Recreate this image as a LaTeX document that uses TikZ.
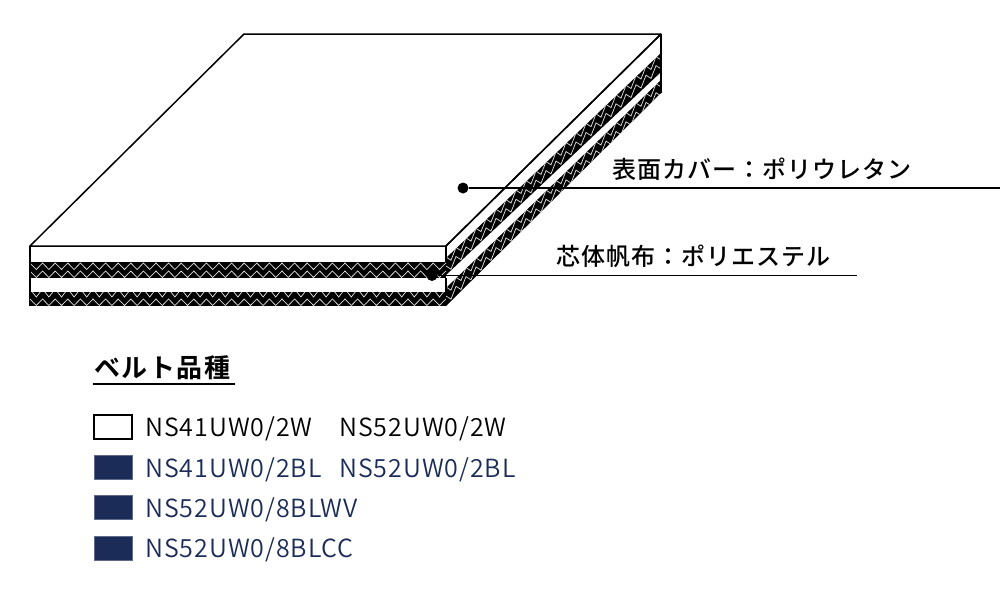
\documentclass[tikz,border=0pt]{standalone}
\usepackage{fontspec}
\newfontfamily\jpfont[LetterSpace=4.2]{Noto Sans CJK JP Medium}
\newfontfamily\jpbold[LetterSpace=6]{Noto Sans CJK JP Bold}
\newfontfamily\codefont[LetterSpace=3.8]{Noto Sans CJK JP DemiLight}
\definecolor{navy}{HTML}{1B2C58}
\tikzstyle{edge}=[black, line width=1.5pt, line join=round]
\tikzstyle{weave}=[gray!30, line width=0.75pt]
\tikzstyle{swatch}=[rectangle, draw=navy!70, fill=navy, minimum width=38pt, minimum height=24pt, inner sep=0pt, line width=0.4pt]
\tikzstyle{plain}=[swatch, draw=black, fill=white, line width=1.5pt]
\tikzstyle{code}=[anchor=base west, inner sep=0pt, font=\codefont\fontsize{25}{25}\selectfont]
\tikzstyle{material}=[inner sep=0pt, anchor=base west, font=\jpfont\fontsize{24}{24}\selectfont]
\tikzstyle{pin}=[circle, fill=black, inner sep=0pt, minimum size=11pt]
\begin{document}
\begin{tikzpicture}[x=1pt,y=-1pt]
  \useasboundingbox (0,0) rectangle (1000,595);
  % top face and white bands
  \draw[edge] (30,246) -- (244,34) -- (661,34) -- (446,246) -- cycle;
  \fill[black] (29,262) rectangle (446,278);
  \fill[black] (29,292) rectangle (446,306);
  \fill[black] (446,258) -- (661,53) -- (661,72) -- (446,275) -- cycle;
  \fill[black] (446,288) -- (661,80) -- (661,93) -- (446,306) -- cycle;
  % weave, front
  \foreach \ya in {263,271,299}{
    \draw[weave] plot[samples at={0,...,66}] ({30+6.3*\x},{\ya+mod(\x,2)*6.5});
  }
  \begin{scope}
    \clip (30,292) rectangle (446,306);
    \draw[weave] plot[samples at={0,...,66}] ({30+6.3*\x},{289+mod(\x,2)*8});
  \end{scope}
  % weave, side
  \begin{scope}
    \clip (446,258) -- (661,53) -- (661,72) -- (446,275) -- cycle;
    \foreach \yb in {257,266}{
      \draw[weave] plot[samples at={0,...,44}] ({446+5*\x},{\yb-4.77*\x+mod(\x,2)*8});
    }
  \end{scope}
  \begin{scope}
    \clip (446,288) -- (661,80) -- (661,93) -- (446,306) -- cycle;
    \foreach \yb in {287,296}{
      \draw[weave] plot[samples at={0,...,44}] ({446+5*\x},{\yb-4.84*\x+mod(\x,2)*8});
    }
  \end{scope}
  % outline
  \draw[edge] (30,246) -- (30,292);
  \draw[edge] (446,246) -- (446,262);
  \draw[edge] (446,278) -- (446,292);
  \draw[edge] (661,34) -- (661,93);
  \draw[edge] (446,246) -- (661,34);
  % labels
  \node[pin] (cover) at (463,188) {};
  \coordinate (coverend) at (1000,188);
  \draw[line width=1.2pt] (cover) -- (coverend);
  \node[material] (covertext) at (612,178) {表面カバー：ポリウレタン};
  \node[pin] (core) at (432,275.5) {};
  \coordinate (coreend) at (857,275.5);
  \draw[line width=1.2pt] (core) -- (coreend);
  \node[material] (coretext) at (556,265) {芯体帆布：ポリエステル};
  % legend
  \node[inner sep=0pt, anchor=base west, font=\jpbold\fontsize{26}{26}\selectfont] (legend) at (94,377) {ベルト品種};
  \coordinate (lineleft) at (93,384);
  \coordinate (lineright) at (235,384);
  \draw[line width=1.8pt] (lineleft) -- (lineright);
  \node[plain] (white) at (113,427) {};
  \node[code] (w41) at (145,436.5) {NS41UW0/2W};
  \node[code] (w52) at (339,436.5) {NS52UW0/2W};
  \node[swatch] (bl) at (113,467.5) {};
  \node[code, navy] (bl41) at (145,477) {NS41UW0/2BL};
  \node[code, navy] (bl52) at (339,477) {NS52UW0/2BL};
  \node[swatch] (wv) at (113,507.5) {};
  \node[code, navy] (wv52) at (145,517) {NS52UW0/8BLWV};
  \node[swatch] (cc) at (113,548) {};
  \node[code, navy] (cc52) at (145,557.5) {NS52UW0/8BLCC};
\end{tikzpicture}
\end{document}
